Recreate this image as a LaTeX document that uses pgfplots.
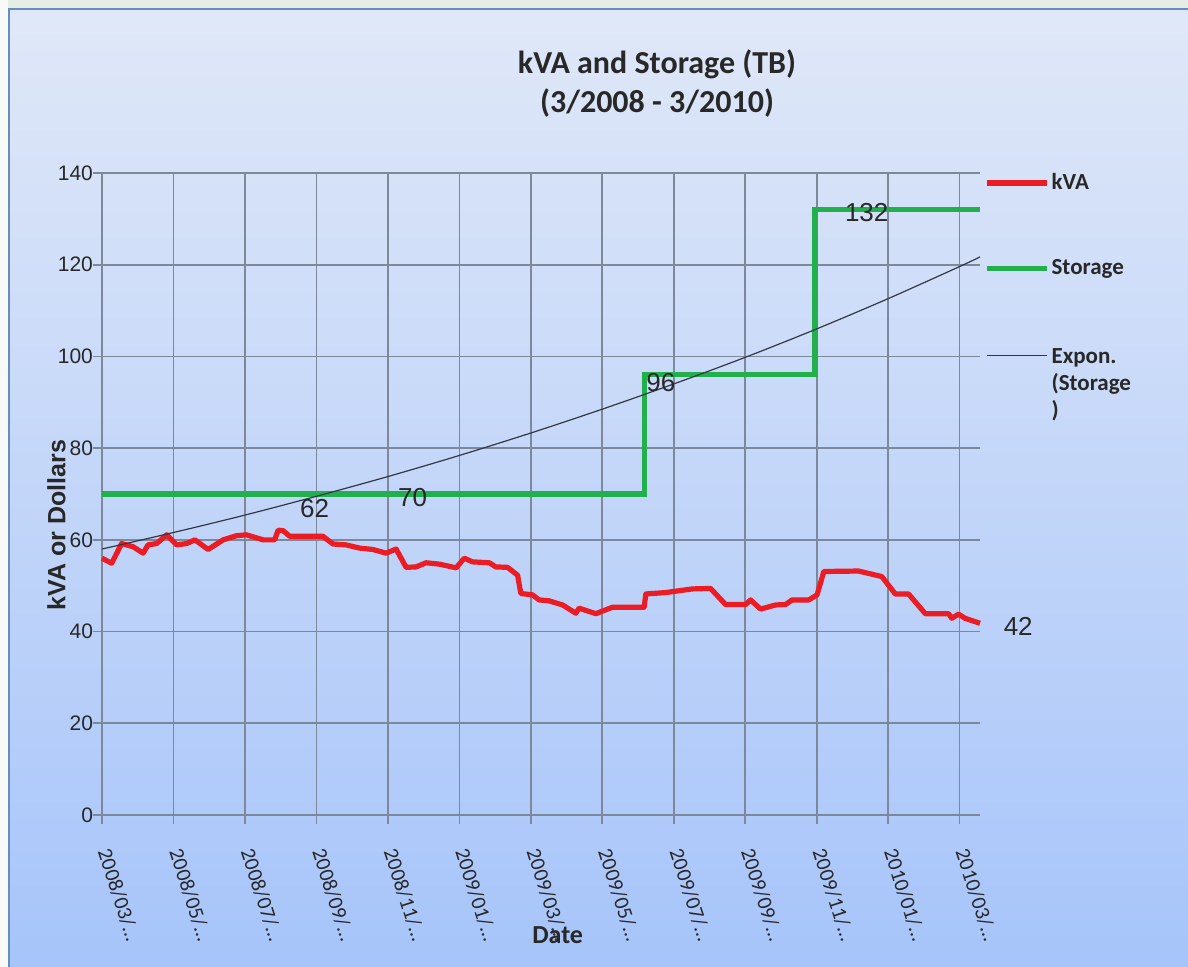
\documentclass[border=0pt]{standalone}
\usepackage{fontspec}
\setmainfont{Carlito}
\newfontfamily\arial{Liberation Sans}
\usepackage{pgfplots}
\pgfplotsset{compat=1.18}
\pgfdeclarelayer{bg}
\pgfsetlayers{bg,main}

\definecolor{bgtop}{RGB}{224,232,248}
\definecolor{bgbot}{RGB}{166,196,250}
\definecolor{rim}{RGB}{228,238,228}
\definecolor{framec}{RGB}{105,140,190}
\definecolor{gridc}{RGB}{125,137,155}
\definecolor{kvared}{RGB}{236,28,36}
\definecolor{stogreen}{RGB}{34,176,76}
\definecolor{trendc}{RGB}{50,55,70}
\definecolor{txt}{RGB}{40,40,40}

\pgfplotstableread{
m v
0.00 56.0
0.27 54.9
0.55 59.2
0.87 58.5
1.15 57.1
1.29 58.9
1.53 59.2
1.81 61.1
2.09 58.9
2.37 59.2
2.60 60.0
2.97 57.9
3.39 60.0
3.76 60.9
4.04 61.1
4.51 60.0
4.83 60.0
4.93 62.1
5.07 62.0
5.25 60.8
6.18 60.8
6.46 59.1
6.83 58.9
7.21 58.2
7.58 57.9
7.95 57.1
8.23 58.0
8.51 54.0
8.79 54.1
9.07 55.0
9.44 54.7
9.91 53.9
10.14 56.0
10.37 55.2
10.84 55.0
11.02 54.1
11.35 54.0
11.63 52.3
11.72 48.3
12.05 48.0
12.23 46.9
12.51 46.7
12.89 45.8
13.26 44.0
13.35 45.1
13.82 43.9
14.28 45.3
15.17 45.3
15.22 48.2
15.77 48.5
16.52 49.3
17.03 49.4
17.45 45.9
18.01 45.9
18.15 46.9
18.43 44.9
18.85 45.8
19.13 45.9
19.31 46.9
19.78 46.9
20.01 48.0
20.20 53.1
21.17 53.2
21.82 52.0
22.20 48.2
22.57 48.2
23.04 43.9
23.69 43.9
23.78 42.9
23.97 43.8
24.15 42.9
24.57 41.8
}\kvatable

\pgfplotstableread{
m v
0.00 70
15.17 70
15.17 96
19.95 96
19.95 132
24.57 132
}\storagetable

\pgfplotstableread{
m v
0 58.0
2 61.6
4 65.4
6 69.5
8 73.8
10 78.4
12 83.3
14 88.5
16 94.0
18 99.8
20 106.0
22 112.6
24 119.6
24.57 121.7
}\trendtable

\begin{document}
\begin{tikzpicture}
\begin{axis}[
  scale only axis, width=439pt, height=321pt,
  xmin=0, xmax=24.57, ymin=0, ymax=140,
  xtick={0,2,...,24},
  xticklabels={2008/03/…,2008/05/…,2008/07/…,2008/09/…,2008/11/…,2009/01/…,2009/03/…,2009/05/…,2009/07/…,2009/09/…,2009/11/…,2010/01/…,2010/03/…},
  ytick={0,20,...,140},
  grid=major, major grid style={gridc, line width=0.8pt},
  axis lines=left, axis line style={gridc, line width=0.9pt, -},
  tick align=outside, major tick length=4.5pt, tick style={gridc, line width=0.8pt},
  /pgf/number format/assume math mode=true,
  yticklabel style={font=\arial\fontsize{10.5}{12}\selectfont, text=txt, xshift=3.5pt},
  xticklabel style={yshift=-9.5pt, rotate=-72, anchor=west, font=\fontsize{10.5}{12}\selectfont, text=txt},
  xlabel={Date},
  xlabel style={at={(axis description cs:0.519,-0.187)}, anchor=center, font=\bfseries\fontsize{13}{15}\selectfont, text=txt},
  ylabel={kVA or Dollars},
  ylabel style={at={(axis description cs:-0.052,0.452)}, anchor=center, font=\arial\bfseries\fontsize{12.5}{14}\selectfont, text=txt},
  clip=false,
  legend style={at={(axis description cs:1,1)}, anchor=north west, xshift=2pt, yshift=1pt, draw=none, fill=none,
    font=\bfseries\fontsize{11.5}{13.5}\selectfont, text=txt, row sep=31.5pt, inner sep=0pt, nodes={inner sep=1pt}},
  legend cell align=left,
  legend image code/.code={\draw[#1] (0pt,0pt) -- (30pt,0pt);},
]
\addplot[kvared, line width=2.6pt, line join=round] table[x=m,y=v] {\kvatable};
\addlegendentry{kVA}
\addplot[stogreen, line width=2.6pt] table[x=m,y=v] {\storagetable};
\addlegendentry{Storage}
\addplot[trendc, line width=0.6pt, smooth] table[x=m,y=v] {\trendtable};
\addlegendentry{\begin{tabular}[t]{@{}l@{}}Expon.\\(Storage\\)\end{tabular}}
\node[font=\arial\fontsize{13}{15}\selectfont, text=txt] at (axis cs:5.95,66.9) {62};
\node[font=\arial\fontsize{13}{15}\selectfont, text=txt] at (axis cs:8.69,69.3) {70};
\node[font=\arial\fontsize{13}{15}\selectfont, text=txt] at (axis cs:15.64,94.2) {96};
\node[font=\arial\fontsize{13}{15}\selectfont, text=txt] at (axis cs:21.4,131.3) {132};
\node[font=\arial\fontsize{13}{15}\selectfont, text=txt] at (axis cs:25.64,41.2) {42};
\coordinate (O) at (rel axis cs:0,0);
\end{axis}
\begin{scope}[shift={(O)}]
\begin{scope}[shift={(-51pt,-76pt)}, x=1pt, y=1pt]
\path[use as bounding box] (0,0) rectangle (594,483.5);
\begin{pgfonlayer}{bg}
\fill[rim] (0,0) rectangle (594,483.5);
\fill[white!70!rim] (0,0) rectangle (4,483.5);
\shade[top color=bgtop, bottom color=bgbot] (4.5,-5) rectangle (600,479);
\draw[framec, line width=1pt] (4.5,-5) -- (4.5,479) -- (600,479);
\end{pgfonlayer}
\node[font=\bfseries\fontsize{16}{19.5}\selectfont, align=center, text=txt] at (328.5,441.5) {kVA and Storage (TB)\\(3/2008 - 3/2010)};
\end{scope}
\end{scope}
\end{tikzpicture}
\end{document}
